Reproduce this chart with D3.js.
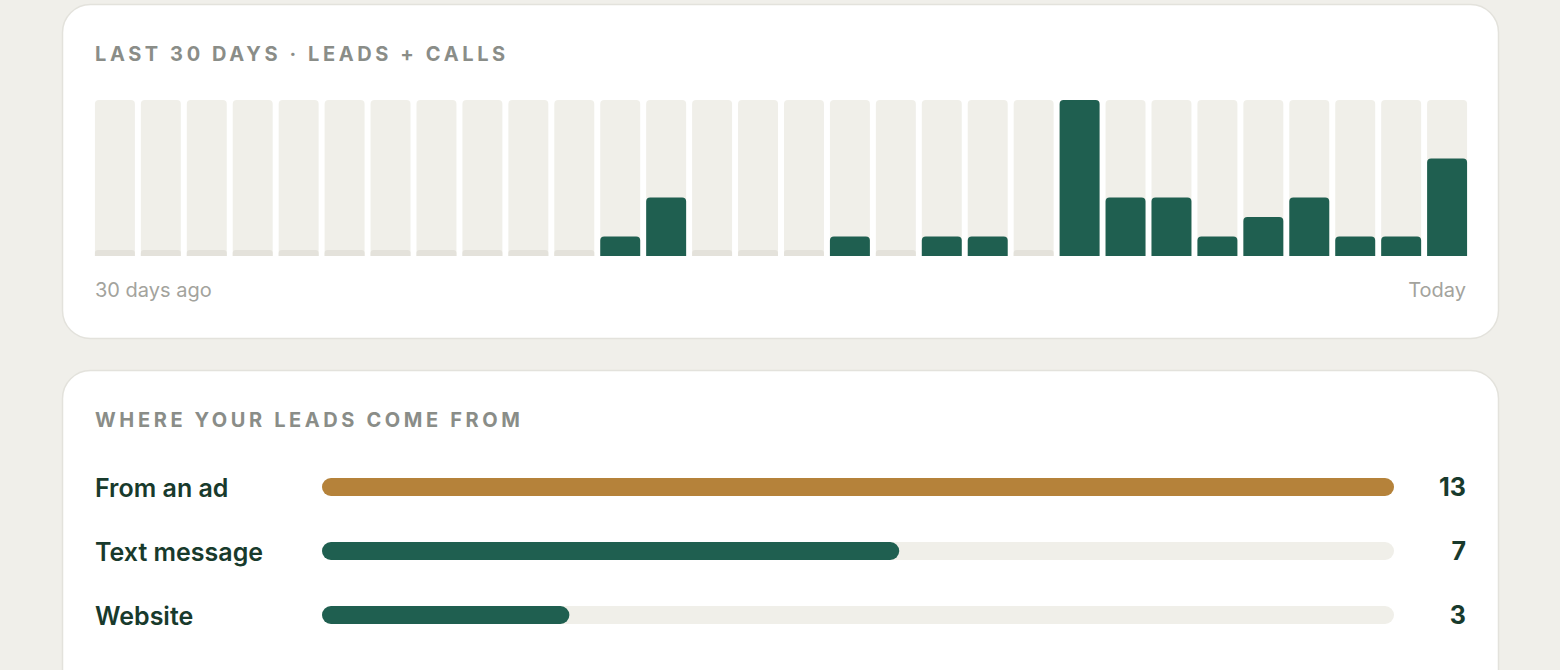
<!DOCTYPE html>
<html><head><meta charset="utf-8">
<script src="https://cdn.jsdelivr.net/npm/d3@7"></script>
<style>
body{margin:0;background:#f0efea;font-family:Inter,"Noto Sans",sans-serif;}
</style></head><body>
<script>
const dailyCounts = [0,0,0,0,0,0,0,0,0,0,0,1,3,0,0,0,1,0,1,1,0,8,3,3,1,2,3,1,1,5];
const sourceNames = ["From an ad", "Text message", "Website"];
const sourceCounts = [13, 7, 3];
const sourceColors = ["#b5823a", "#1f5f50", "#1f5f50"];

const svg = d3.select("body").append("svg").attr("width", 1560).attr("height", 670);

function card(y, h) {
  svg.append("rect").attr("x", 62.5).attr("y", y).attr("width", 1436).attr("height", h)
    .attr("rx", 28).attr("fill", "#fff").attr("stroke", "#e3e2dc").attr("stroke-width", 1.5);
}
card(4.5, 334);
card(370.5, 330);

function title(y, t) {
  svg.append("text").attr("x", 95).attr("y", y).text(t)
    .attr("font-size", 20).attr("font-weight", 700).attr("letter-spacing", 3.6)
    .attr("fill", "#8a8d88");
}
title(61, "LAST 30 DAYS · LEADS + CALLS");
title(427, "WHERE YOUR LEADS COME FROM");

// daily bars
const x = d3.scaleBand().domain(d3.range(30)).range([94, 1468]).paddingInner(0.13).paddingOuter(0.02);
const y = d3.scaleLinear().domain([0, 8]).range([256, 100]);
const g = svg.append("g");
const topRound = (x0, y0, w, h, r) => {
  r = Math.min(r, h / 2, w / 2);
  return `M${x0},${y0 + h}V${y0 + r}Q${x0},${y0} ${x0 + r},${y0}H${x0 + w - r}Q${x0 + w},${y0} ${x0 + w},${y0 + r}V${y0 + h}Z`;
};
g.selectAll(".track").data(dailyCounts).enter().append("path")
  .attr("d", (d, i) => topRound(x(i), 100, x.bandwidth(), 156, 4)).attr("fill", "#f0efe9");
g.selectAll(".bar").data(dailyCounts).enter().append("path")
  .attr("d", (d, i) => d === 0
    ? topRound(x(i), 250, x.bandwidth(), 6, 3)
    : topRound(x(i), y(d), x.bandwidth(), 256 - y(d), 4))
  .attr("fill", d => d === 0 ? "#e4e2db" : "#1f5f50");

svg.append("text").attr("x", 95).attr("y", 297).text("30 days ago")
  .attr("font-size", 20).attr("fill", "#a3a39d");
svg.append("text").attr("x", 1466).attr("y", 297).attr("text-anchor", "end").text("Today")
  .attr("font-size", 20).attr("fill", "#a3a39d");

// sources
const sx = d3.scaleLinear().domain([0, d3.max(sourceCounts)]).range([322, 1394]);
const rowY = d3.scalePoint().domain(sourceNames).range([487, 615]);
const rows = svg.selectAll(".row").data(sourceNames).enter().append("g")
  .attr("transform", d => `translate(0,${rowY(d)})`);
rows.append("text").attr("x", 95).attr("y", 10).text(d => d)
  .attr("font-size", 25).attr("font-weight", 600).attr("fill", "#183a2c");
rows.append("rect").attr("x", 322).attr("y", -9).attr("height", 18).attr("rx", 9)
  .attr("width", 1072).attr("fill", "#f0efe9");
rows.append("rect").attr("x", 322).attr("y", -9).attr("height", 18).attr("rx", 9)
  .attr("width", (d, i) => sx(sourceCounts[i]) - 322).attr("fill", (d, i) => sourceColors[i]);
rows.append("text").attr("x", 1466).attr("y", 9).attr("text-anchor", "end")
  .text((d, i) => sourceCounts[i])
  .attr("font-size", 25).attr("font-weight", 700).attr("fill", "#183a2c");
</script>
</body></html>
